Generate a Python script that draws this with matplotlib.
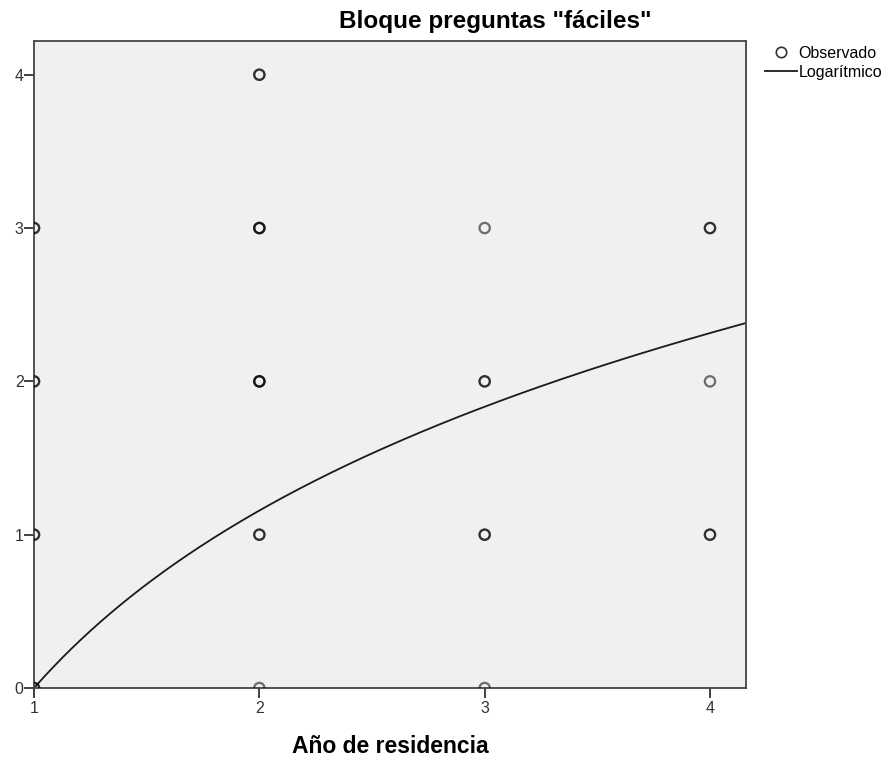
import matplotlib
matplotlib.use("Agg")
import matplotlib.pyplot as plt
from matplotlib.lines import Line2D
import numpy as np

plt.rcParams['font.family'] = ['Liberation Sans', 'DejaVu Sans']

# Observaciones (año de residencia, aciertos); las repetidas se superponen
obs_x = [1, 1, 1, 1, 1, 1, 1, 1,
         2, 2, 2, 2, 2, 2, 2, 2, 2, 2, 2,
         3, 3, 3, 3, 3, 3,
         4, 4, 4, 4, 4]
obs_y = [0, 0, 1, 1, 2, 2, 3, 3,
         0, 1, 1, 2, 2, 2, 3, 3, 3, 4, 4,
         0, 1, 1, 2, 2, 3,
         1, 1, 2, 3, 3]

# Ajuste logarítmico y = b0 + b1 * ln(x)
b0 = 0.0
b1 = 1.67

x_ticks = [1, 2, 3, 4]
y_ticks = [0, 1, 2, 3, 4]

fig = plt.figure(figsize=(8.91, 7.62), dpi=100)
ax = fig.add_axes([0.0382, 0.0971, 0.7991, 0.8491])
ax.set_facecolor('#f0f0f0')

ax.scatter(obs_x, obs_y, s=55, facecolors='none', edgecolors='black',
           linewidths=1.6, alpha=0.55, zorder=3, label='Observado')

xf = np.linspace(1, 4.16, 300)
ax.plot(xf, b0 + b1 * np.log(xf), color='#1a1a1a', linewidth=1.3,
        zorder=2, label='Logarítmico')

ax.set_xlim(1, 4.16)
ax.set_ylim(0, 4.22)
ax.set_xticks(x_ticks)
ax.set_yticks(y_ticks)
ax.tick_params(direction='out', length=7, width=1.3, color='#333333',
               labelsize=11.5, labelcolor='#333333')
ax.tick_params(axis='x', pad=2)
ax.tick_params(axis='y', pad=0.5)
for sp in ax.spines.values():
    sp.set_color('#444444')
    sp.set_linewidth(1.3)

fig.text(0.556, 0.972, 'Bloque preguntas "fáciles"', ha='center', va='center',
         fontsize=17.5, fontweight='bold')
fig.text(0.438, 0.0197, 'Año de residencia', ha='center', va='center',
         fontsize=16.5, fontweight='bold')

h_obs = Line2D([], [], linestyle='none', marker='o', markersize=7.5,
               markerfacecolor='none', markeredgecolor='#333333', markeredgewidth=1.2)
h_log = Line2D([], [], color='#1a1a1a', linewidth=1.3)
fig.legend([h_obs, h_log], ['Observado', 'Logarítmico'], loc='upper left',
           bbox_to_anchor=(0.8586, 0.940), frameon=False, fontsize=11.5,
           handlelength=2.0, handletextpad=0.1, borderpad=0, borderaxespad=0,
           labelspacing=0.25)

fig.savefig('out.png', dpi=100, facecolor='white')
